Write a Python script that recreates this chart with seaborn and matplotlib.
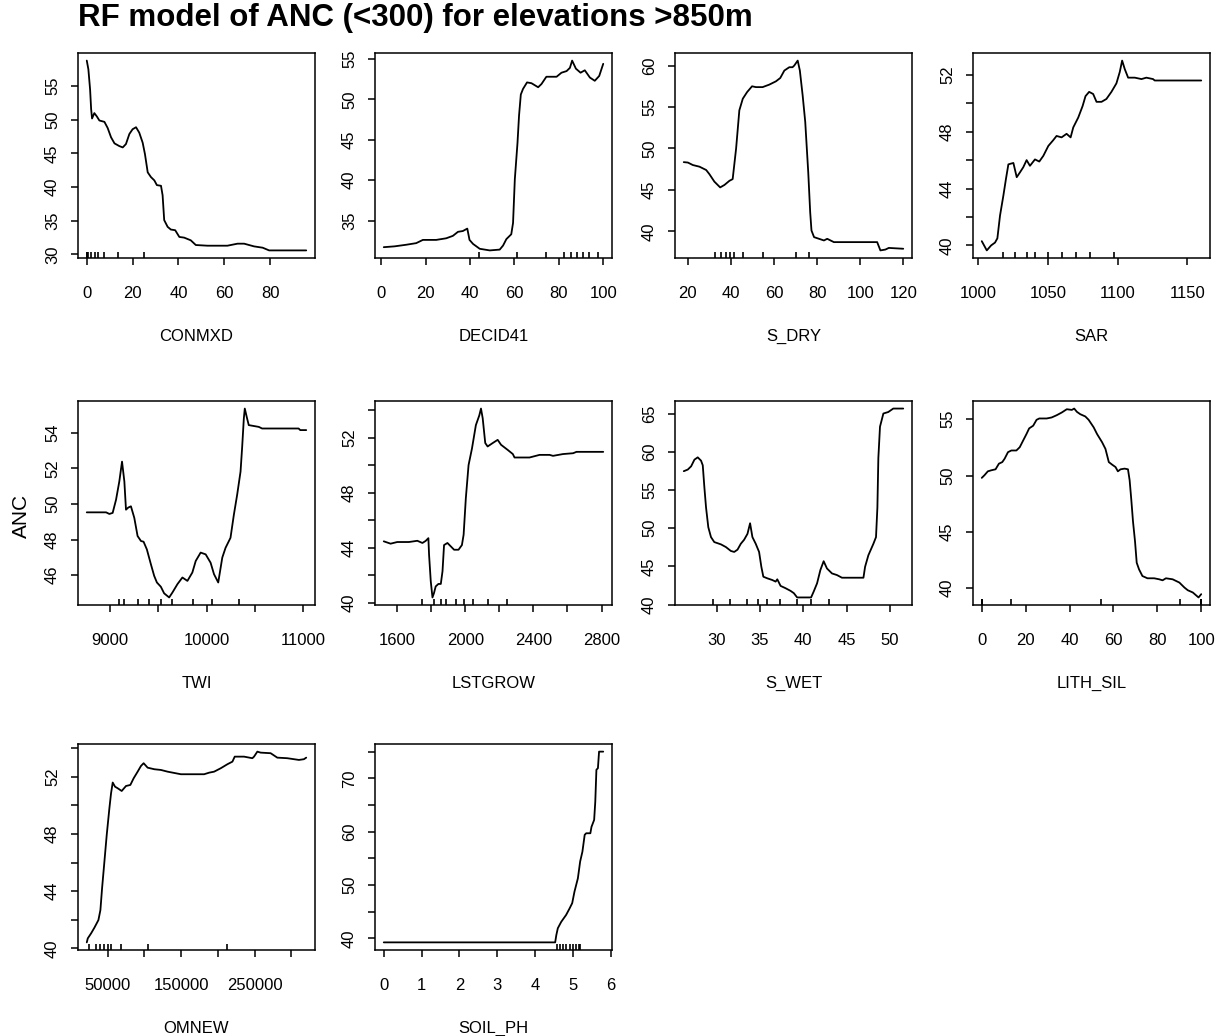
import matplotlib
matplotlib.use("Agg")
import matplotlib.pyplot as plt
import seaborn as sns

# ---------------- data ----------------
title = "RF model of ANC (<300) for elevations >850m"
ylabel = "ANC"
names = ["CONMXD", "DECID41", "S_DRY", "SAR", "TWI", "LSTGROW", "S_WET",
         "LITH_SIL", "OMNEW", "SOIL_PH"]

conmxd_x = [0, 0.7, 1.45, 1.9, 2.3, 3.3, 4.4, 5.5, 7.7, 9.1, 10.6, 12.1, 14.2, 15.7,
            17.1, 18.6, 20.0, 21.5, 22.9, 24.4, 25.4, 26.6, 28.0, 29.5, 30.6, 32.4,
            33.1, 33.8, 35.3, 36.7, 38.6, 40.4, 42.5, 45.4, 47.6, 52.7, 61.4, 65.8,
            68.7, 73.0, 76.8, 79.6, 95.8]
conmxd_y = [58.8, 57.5, 54.5, 51.6, 50.2, 51.0, 50.5, 49.9, 49.7, 48.8, 47.4, 46.5,
            46.1, 45.9, 46.4, 47.9, 48.6, 48.9, 48.1, 46.6, 44.9, 42.2, 41.5, 41.0,
            40.3, 40.2, 38.8, 35.1, 34.1, 33.7, 33.6, 32.6, 32.5, 32.1, 31.4, 31.3,
            31.3, 31.6, 31.6, 31.2, 31.0, 30.6, 30.6]
conmxd_rug = [0, 0.3, 0.7, 1.9, 3.4, 5.1, 7.7, 13.5, 25.1]

decid_x = [1.2, 6.0, 11.3, 15.8, 18.8, 24.8, 29.3, 32.3, 34.6, 36.8, 38.8, 39.8, 41.4,
           44.4, 48.9, 53.4, 54.9, 56.4, 58.6, 59.4, 60.2, 61.4, 62.1, 62.9, 63.9,
           65.7, 67.7, 70.7, 72.2, 74.4, 79.0, 81.2, 83.5, 85.0, 86.0, 87.7, 89.8,
           91.7, 94.0, 96.2, 98.2, 100]
decid_y = [31.7, 31.8, 32.0, 32.2, 32.6, 32.6, 32.8, 33.1, 33.6, 33.7, 34.0, 32.6,
           32.1, 31.5, 31.3, 31.4, 31.9, 32.7, 33.3, 34.7, 40.1, 44.6, 48.0, 50.6,
           51.3, 52.1, 52.0, 51.5, 51.9, 52.8, 52.8, 53.3, 53.5, 53.9, 54.8, 53.8,
           53.3, 53.6, 52.7, 52.3, 52.9, 54.4]
decid_rug = [44.1, 61.2, 74.4, 82.4, 85.6, 88.3, 91.0, 93.7, 97.5]

sdry_x = [18.1, 20, 22.3, 25.4, 28.5, 30.0, 32.3, 35.0, 37.0, 39.3, 40.8, 42.4, 43.9,
          45.5, 47.5, 49.8, 51.6, 54.7, 57.8, 60.9, 62.9, 64.8, 67.1, 68.6, 69.4,
          71.0, 72.0, 73.3, 74.5, 75.9, 76.8, 77.4, 78.6, 80.9, 83.2, 84.7, 87.8,
          97.1, 107.9, 109.4, 111.7, 113.3, 120]
sdry_y = [48.35, 48.3, 48.0, 47.8, 47.4, 46.9, 46.0, 45.3, 45.6, 46.1, 46.3, 50.0,
          54.6, 56.0, 56.8, 57.5, 57.4, 57.4, 57.7, 58.1, 58.5, 59.4, 59.8, 59.8,
          60.0, 60.6, 59.4, 56.4, 53.2, 47.1, 42.3, 40.1, 39.3, 39.1, 38.9, 39.1,
          38.7, 38.7, 38.7, 37.7, 37.8, 38.0, 37.9]
sdry_rug = [32.8, 35.4, 37.7, 39.6, 41.5, 45.4, 55.0, 70.4, 76.2]

sar_x = [1002.4, 1006.0, 1009.1, 1011.9, 1013.6, 1015.5, 1017.9, 1019.8, 1021.5,
         1023.2, 1025.1, 1027.5, 1029.9, 1032.2, 1034.6, 1037.0, 1040.6, 1043.7,
         1046.6, 1050.2, 1053.7, 1056.1, 1059.7, 1063.3, 1066.2, 1068.1, 1071.7,
         1074.8, 1076.9, 1079.5, 1082.4, 1084.8, 1088.4, 1091.9, 1095.5, 1099.1,
         1101.5, 1103.2, 1105.1, 1107.5, 1112.3, 1117.1, 1120.6, 1125.4, 1126.6, 1160]
sar_y = [40.3, 39.65, 40.0, 40.2, 40.5, 42.1, 43.5, 44.7, 45.7, 45.75, 45.8, 44.8,
         45.15, 45.5, 46.0, 45.6, 46.05, 45.9, 46.3, 47.0, 47.4, 47.7, 47.6, 47.85,
         47.6, 48.3, 49.0, 49.8, 50.5, 50.8, 50.65, 50.1, 50.1, 50.3, 50.8, 51.4,
         52.2, 53.0, 52.4, 51.8, 51.8, 51.7, 51.8, 51.7, 51.6, 51.6]
sar_rug = [1017.9, 1026.3, 1034.6, 1040.6, 1050.2, 1059.7, 1069.8, 1080.0, 1097.4]

twi_x = [8759, 8959, 8993, 9027, 9062, 9096, 9124, 9148, 9165, 9189, 9216, 9251,
         9285, 9320, 9347, 9381, 9423, 9457, 9485, 9526, 9560, 9612, 9646, 9698,
         9749, 9801, 9852, 9887, 9938, 9990, 10041, 10076, 10120, 10162, 10196,
         10247, 10282, 10316, 10351, 10368, 10385, 10395, 10419, 10436, 10540,
         10574, 10952, 10969, 11031]
twi_y = [49.53, 49.53, 49.44, 49.5, 50.24, 51.27, 52.38, 51.27, 49.68, 49.8, 49.87,
         49.22, 48.2, 47.92, 47.88, 47.45, 46.61, 45.96, 45.59, 45.35, 44.98, 44.75,
         45.03, 45.5, 45.87, 45.68, 46.15, 46.8, 47.27, 47.17, 46.7, 46.06, 45.59,
         46.99, 47.54, 48.1, 49.4, 50.52, 51.82, 53.22, 54.8, 55.36, 54.8, 54.43,
         54.33, 54.24, 54.24, 54.15, 54.15]
twi_rug = [9096, 9148, 9285, 9399, 9526, 9646, 9859, 10052, 10340]

lst_x = [1521, 1561, 1600, 1669, 1718, 1748, 1767, 1783, 1787, 1797, 1807, 1816,
         1826, 1842, 1856, 1866, 1875, 1895, 1915, 1934, 1960, 1980, 1990, 2003,
         2019, 2039, 2062, 2082, 2092, 2102, 2117, 2131, 2161, 2190, 2210, 2249,
         2279, 2289, 2377, 2436, 2495, 2515, 2574, 2633, 2653, 2810]
lst_y = [44.47, 44.3, 44.42, 44.42, 44.51, 44.35, 44.5, 44.7, 43.5, 41.57, 40.4,
         40.72, 41.2, 41.38, 41.38, 42.3, 44.2, 44.35, 44.1, 43.86, 43.86, 44.2,
         44.95, 47.6, 50.0, 51.2, 52.9, 53.6, 54.1, 53.4, 51.6, 51.35, 51.6, 51.83,
         51.47, 51.1, 50.8, 50.55, 50.55, 50.74, 50.74, 50.67, 50.8, 50.86, 50.96,
         50.96]
lst_rug = [1744, 1816, 1856, 1885, 1944, 1993, 2043, 2131, 2245]

swet_x = [26.21, 26.67, 27.06, 27.44, 27.82, 28.2, 28.4, 28.59, 28.78, 29.04, 29.35,
          29.73, 30.5, 31.07, 31.64, 32.03, 32.41, 32.79, 33.17, 33.56, 33.86, 34.13,
          34.51, 34.9, 35.16, 35.39, 35.85, 36.42, 36.81, 37.0, 37.38, 37.95, 38.53,
          38.91, 39.29, 40.9, 41.2, 41.59, 41.97, 42.35, 42.73, 43.31, 43.88, 44.46,
          45.79, 46.94, 47.13, 47.51, 48.09, 48.39, 48.55, 48.66, 48.85, 49.24,
          49.81, 50.38, 51.53]
swet_y = [57.46, 57.67, 58.1, 58.97, 59.27, 58.84, 58.23, 55.3, 52.7, 50.13, 48.84,
          48.19, 47.89, 47.54, 47.03, 46.9, 47.2, 47.97, 48.49, 49.27, 50.65, 48.84,
          47.97, 46.9, 44.96, 43.66, 43.45, 43.23, 43.02, 43.32, 42.46, 42.16, 41.81,
          41.51, 40.95, 40.95, 41.72, 42.8, 44.53, 45.69, 44.74, 44.09, 43.88, 43.53,
          43.53, 43.53, 44.96, 46.47, 47.97, 48.84, 52.72, 59.18, 63.28, 65.0, 65.2,
          65.65, 65.65]
swet_rug = [29.54, 31.53, 33.56, 34.82, 35.85, 37.27, 39.29, 40.9, 42.93]

lith_x = [0, 1.2, 2.76, 4.29, 6.28, 7.81, 9.34, 10.41, 11.94, 13.48, 15.77, 17.3,
          18.84, 20.37, 21.59, 23.43, 24.96, 26.19, 29.56, 31.85, 34.15, 36.45, 38.74,
          41.04, 42.11, 43.34, 44.87, 47.17, 48.7, 51.0, 52.53, 54.83, 56.36, 57.89,
          59.42, 60.95, 62.02, 63.25, 65.08, 66.62, 67.38, 68.15, 68.91, 69.83, 70.6,
          71.67, 73.2, 75.5, 78.56, 80.86, 82.39, 83.92, 86.98, 90.05, 92.34, 93.87,
          96.17, 98.77, 100]
lith_y = [49.79, 50.02, 50.37, 50.46, 50.55, 51.05, 51.19, 51.49, 52.07, 52.22,
          52.22, 52.51, 53.1, 53.68, 54.18, 54.42, 54.94, 55.06, 55.06, 55.15, 55.35,
          55.59, 55.88, 55.82, 55.94, 55.65, 55.44, 55.24, 54.94, 54.27, 53.68, 52.95,
          52.36, 51.19, 50.96, 50.75, 50.37, 50.55, 50.61, 50.55, 49.58, 47.82, 45.92,
          44.16, 42.26, 41.67, 41.08, 40.88, 40.88, 40.79, 40.7, 40.88, 40.79, 40.5,
          40.06, 39.82, 39.62, 39.18, 39.47]
lith_rug = [0, 0, 0, 13.5, 54.2, 90.5, 100, 100, 100]

om_x = [21467, 22826, 27355, 31884, 37319, 40036, 42301, 45471, 48641, 52264, 54529,
        56793, 59964, 63587, 69022, 74909, 80797, 85326, 90761, 95290, 98913, 104348,
        113406, 122464, 131522, 149638, 163225, 181341, 188134, 194928, 203986,
        213043, 219837, 223007, 235688, 247010, 249275, 253804, 258333, 271920,
        280978, 294565, 310417, 317210, 320380]
om_y = [40.42, 40.7, 41.05, 41.45, 41.98, 42.68, 44.2, 46.06, 47.93, 49.79, 50.84,
        51.59, 51.3, 51.19, 51.0, 51.35, 51.42, 51.89, 52.35, 52.75, 52.94, 52.63,
        52.52, 52.47, 52.35, 52.17, 52.17, 52.17, 52.28, 52.35, 52.59, 52.87, 53.05,
        53.4, 53.4, 53.29, 53.4, 53.75, 53.68, 53.64, 53.33, 53.29, 53.17, 53.22,
        53.33]
om_rug = [24185, 34149, 40036, 44565, 51000, 54529, 68116, 104348, 212138]

ph_x = [0, 4.53, 4.56, 4.6, 4.69, 4.82, 4.91, 4.98, 5.04, 5.13, 5.19, 5.25, 5.31,
        5.35, 5.46, 5.49, 5.56, 5.59, 5.62, 5.66, 5.69, 5.8]
ph_y = [39.25, 39.25, 40.6, 41.9, 43.1, 44.4, 45.6, 46.6, 48.75, 51.25, 54.4, 56.25,
        59.4, 59.7, 59.7, 60.9, 62.2, 65.6, 71.6, 71.9, 75.0, 75.0]
ph_rug = [4.58, 4.65, 4.73, 4.82, 4.91, 5.0, 5.08, 5.15, 5.19]

xs_all = [conmxd_x, decid_x, sdry_x, sar_x, twi_x, lst_x, swet_x, lith_x, om_x, ph_x]
ys_all = [conmxd_y, decid_y, sdry_y, sar_y, twi_y, lst_y, swet_y, lith_y, om_y, ph_y]
rugs_all = [conmxd_rug, decid_rug, sdry_rug, sar_rug, twi_rug, lst_rug, swet_rug,
            lith_rug, om_rug, ph_rug]

xticks_all = [
    [0, 20, 40, 60, 80],
    [0, 20, 40, 60, 80, 100],
    [20, 40, 60, 80, 100, 120],
    [1000, 1050, 1100, 1150],
    [9000, 9500, 10000, 10500, 11000],
    [1600, 1800, 2000, 2200, 2400, 2600, 2800],
    [30, 35, 40, 45, 50],
    [0, 20, 40, 60, 80, 100],
    [50000, 100000, 150000, 200000, 250000, 300000],
    [0, 1, 2, 3, 4, 5, 6],
]
xticklabels_all = [
    ["0", "20", "40", "60", "80"],
    ["0", "20", "40", "60", "80", "100"],
    ["20", "40", "60", "80", "100", "120"],
    ["1000", "1050", "1100", "1150"],
    ["9000", "", "10000", "", "11000"],
    ["1600", "", "2000", "", "2400", "", "2800"],
    ["30", "35", "40", "45", "50"],
    ["0", "20", "40", "60", "80", "100"],
    ["50000", "", "150000", "", "250000", ""],
    ["0", "1", "2", "3", "4", "5", "6"],
]
yticks_all = [
    [30, 35, 40, 45, 50, 55],
    [35, 40, 45, 50, 55],
    [40, 45, 50, 55, 60],
    [40, 42, 44, 46, 48, 50, 52],
    [46, 48, 50, 52, 54],
    [40, 42, 44, 46, 48, 50, 52, 54],
    [40, 45, 50, 55, 60, 65],
    [40, 45, 50, 55],
    [40, 42, 44, 46, 48, 50, 52, 54],
    [40, 45, 50, 55, 60, 65, 70, 75],
]
yticklabels_all = [
    ["30", "35", "40", "45", "50", "55"],
    ["35", "40", "45", "50", "55"],
    ["40", "45", "50", "55", "60"],
    ["40", "", "44", "", "48", "", "52"],
    ["46", "48", "50", "52", "54"],
    ["40", "", "44", "", "48", "", "52", ""],
    ["40", "45", "50", "55", "60", "65"],
    ["40", "45", "50", "55"],
    ["40", "", "44", "", "48", "", "52", ""],
    ["40", "", "50", "", "60", "", "70", ""],
]

# ---------------- layout ----------------
W, H = 1215, 1036
col_left = [78, 375, 675, 973]
col_w = 237
row_tb = [(53, 258), (401, 605), (744, 950)]

sns.set_style("ticks")
plt.rcParams["font.family"] = ["Liberation Sans", "DejaVu Sans"]
plt.rcParams["axes.linewidth"] = 1.0
for k in ("text.color", "axes.labelcolor", "xtick.color", "ytick.color",
          "axes.edgecolor"):
    plt.rcParams[k] = "black"

fig = plt.figure(figsize=(W / 100, H / 100), dpi=100)
fig.patch.set_facecolor("white")

for i, name in enumerate(names):
    r, c = divmod(i, 4)
    top, bot = row_tb[r]
    left = col_left[c]
    ax = fig.add_axes([left / W, 1 - bot / H, col_w / W, (bot - top) / H])
    ax.set_facecolor("white")
    xs, ys = xs_all[i], ys_all[i]
    sns.lineplot(x=xs, y=ys, ax=ax, color="black", linewidth=1.3,
                 estimator=None, sort=False)
    sns.rugplot(x=rugs_all[i], ax=ax, height=0.03, color="black",
                linewidth=1.2, expand_margins=False)
    xr = max(xs) - min(xs)
    yr = max(ys) - min(ys)
    ax.set_xlim(min(xs) - 0.04 * xr, max(xs) + 0.04 * xr)
    ax.set_ylim(min(ys) - 0.04 * yr, max(ys) + 0.04 * yr)
    ax.set_xticks(xticks_all[i])
    ax.set_xticklabels(xticklabels_all[i])
    ax.set_yticks(yticks_all[i])
    ax.set_yticklabels(yticklabels_all[i], rotation=90, va="center")
    ax.tick_params(axis="both", direction="out", length=5, width=1.1,
                   colors="black", labelcolor="black", labelsize=12)
    ax.tick_params(axis="x", pad=15)
    ax.tick_params(axis="y", pad=8)
    for s in ax.spines.values():
        s.set_visible(True)
        s.set_color("black")
        s.set_linewidth(1.1)
    ax.set_xlabel(name, fontsize=12, labelpad=20, color="black")
    ax.set_ylabel("")

fig.text(78 / W, 1 - 18 / H, title, fontsize=22.5, fontweight="bold",
         ha="left", va="center", color="black")
fig.text(21 / W, 1 - 516 / H, ylabel, fontsize=15, rotation=90,
         ha="center", va="center", color="black")

fig.savefig("out.png", dpi=100, facecolor="white")
